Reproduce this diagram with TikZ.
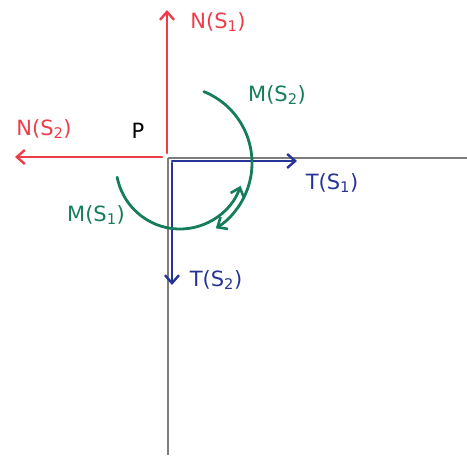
\documentclass[tikz,border=0pt]{standalone}
\usepackage{fontspec}
\setmainfont{DejaVu Sans}
\usetikzlibrary{arrows.meta}
\definecolor{cred}{RGB}{236,62,74}
\definecolor{cblue}{RGB}{38,52,150}
\definecolor{cgreen}{RGB}{22,125,92}
\definecolor{cgray}{RGB}{125,125,125}
\tikzset{
  axis/.style={draw=cgray, line width=1.2pt},
  force/.style={line width=2.6pt, line cap=round, -{Straight Barb[length=8pt,width=14pt,line width=2.4pt]}},
  moment/.style={draw=cgreen, line width=2.8pt, line cap=round, -{Straight Barb[length=8pt,width=14pt,line width=2.6pt]}},
  lbl/.style={font=\fontsize{21}{23}\selectfont, inner sep=1pt},
}
\begin{document}
\begin{tikzpicture}[x=1pt,y=1pt]
\useasboundingbox (0,0) rectangle (467,460);
% axes
\coordinate (O) at (168,302);
\coordinate (Xend) at (467,302);
\coordinate (Yend) at (168,5);
\draw[axis] (O) -- (Xend);
\draw[axis] (O) -- (Yend);
% red normal forces
\coordinate (n1s) at (167,307);
\coordinate (n1e) at (167,450);
\coordinate (n2s) at (162,303);
\coordinate (n2e) at (15,303);
\draw[force, cred] (n1s) -- (n1e);
\draw[force, cred] (n2s) -- (n2e);
% blue tangential forces
\coordinate (t1s) at (172,299);
\coordinate (t1e) at (297,299);
\coordinate (t2s) at (172,297);
\coordinate (t2e) at (172,175);
\draw[force, cblue] (t1s) -- (t1e);
\draw[force, cblue] (t2s) -- (t2e);
% moments
\draw[moment] (175,297) ++(68:77) arc[start angle=68, end angle=-58, radius=77];
\draw[moment] (180,295) ++(191:64) arc[start angle=191, end angle=341, radius=64];
% labels
\node[lbl, text=cred] (lN1) at (218,438) {N(S\textsubscript{1})};
\node[lbl, text=cred] (lN2) at (44,331) {N(S\textsubscript{2})};
\node[lbl, text=black] (lP) at (138,329) {P};
\node[lbl, text=cblue] (lT1) at (332,277) {T(S\textsubscript{1})};
\node[lbl, text=cblue] (lT2) at (216,180) {T(S\textsubscript{2})};
\node[lbl, text=cgreen] (lM1) at (96,245) {M(S\textsubscript{1})};
\node[lbl, text=cgreen] (lM2) at (277,365) {M(S\textsubscript{2})};
\end{tikzpicture}
\end{document}
